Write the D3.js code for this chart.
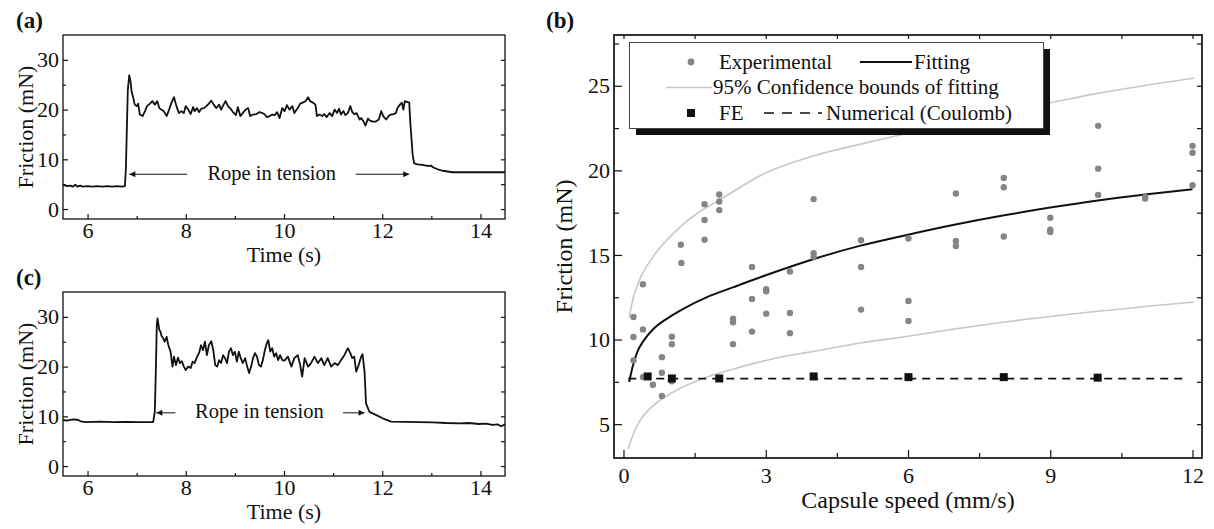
<!DOCTYPE html>
<html>
<head>
<meta charset="utf-8">
<script src="https://cdn.jsdelivr.net/npm/d3@7"></script>
<style>
  body { margin: 0; background: #fff; }
  svg { display: block; }
  text { font-family: "Liberation Serif", "Times New Roman", Times, "DejaVu Serif", serif; fill: #111; }
  .domain { display: none; }
  .tick line { stroke: #111; stroke-width: 1.2; }
</style>
</head>
<body>
<svg id="chart" width="1214" height="529"></svg>
<script>
// ---- data ----
// (a) friction trace: [time s, friction mN]
var traceA = [[5.5,4.9],[5.55,4.7],[5.6,4.6],[5.65,4.7],[5.7,4.5],[5.75,4.9],[5.8,4.5],[5.85,4.7],[5.9,4.5],
  [6.0,4.6],[6.1,4.5],[6.2,4.6],[6.3,4.5],[6.4,4.6],[6.5,4.5],[6.6,4.6],[6.7,4.5],[6.76,4.6],[6.78,8.0],
  [6.8,16.0],[6.82,24.0],[6.848,26.9],[6.875,25.7],[6.896,23.7],[6.93,22.4],[6.96,21.0],[7.0,20.7],[7.03,21.2],
  [7.065,19.0],[7.12,18.7],[7.17,19.7],[7.21,20.7],[7.27,21.2],[7.32,21.7],[7.37,21.0],[7.42,21.7],[7.46,20.3],
  [7.5,20.0],[7.55,19.7],[7.61,18.7],[7.66,20.0],[7.71,21.4],[7.76,22.5],[7.81,20.7],[7.86,19.3],[7.91,19.7],
  [7.96,19.3],[8.0,20.7],[8.05,20.0],[8.1,19.1],[8.15,20.5],[8.18,19.7],[8.23,20.3],[8.27,19.5],[8.32,20.2],
  [8.37,20.3],[8.42,20.7],[8.47,21.2],[8.52,21.8],[8.57,21.0],[8.62,20.3],[8.68,21.0],[8.72,20.0],[8.77,21.0],
  [8.81,21.7],[8.86,20.7],[8.91,20.2],[8.96,19.5],[9.02,18.9],[9.06,20.5],[9.11,18.7],[9.16,19.3],[9.22,20.0],
  [9.27,20.3],[9.31,18.7],[9.37,19.0],[9.44,19.1],[9.5,19.5],[9.56,19.3],[9.61,19.0],[9.65,18.5],[9.71,18.7],
  [9.76,19.0],[9.81,18.9],[9.86,19.5],[9.91,18.3],[9.964,20.3],[10.01,19.7],[10.06,20.9],[10.11,20.0],
  [10.17,20.7],[10.21,19.3],[10.28,20.3],[10.33,21.2],[10.38,21.4],[10.44,21.7],[10.49,22.5],[10.53,21.7],
  [10.59,21.4],[10.64,21.0],[10.67,18.7],[10.72,19.0],[10.78,18.7],[10.82,19.1],[10.87,18.5],[10.93,19.3],
  [10.98,18.7],[11.03,20.0],[11.08,19.3],[11.12,20.2],[11.16,19.0],[11.21,19.7],[11.25,18.9],[11.30,19.3],
  [11.35,20.7],[11.39,19.5],[11.43,19.1],[11.48,19.3],[11.54,18.0],[11.57,18.3],[11.62,17.6],[11.66,16.8],
  [11.71,18.2],[11.75,17.8],[11.81,17.6],[11.87,17.6],[11.93,18.0],[11.98,19.7],[12.02,18.7],[12.08,18.0],
  [12.13,18.7],[12.18,19.0],[12.23,19.1],[12.28,19.3],[12.31,20.3],[12.36,21.0],[12.40,21.4],[12.43,20.0],
  [12.46,21.7],[12.52,21.5],[12.55,21.4],[12.57,17.6],[12.60,13.6],[12.62,10.9],[12.65,9.2],[12.72,9.0],
  [12.82,8.9],[12.92,8.7],[12.99,8.75],[13.04,8.35],[13.13,8.0],[13.23,7.7],[13.33,7.55],[13.43,7.4],[14.5,7.4]];

// (c) friction trace: [time s, friction mN]
var traceC = [[5.5,9.26],[5.575,9.12],[5.71,9.39],[5.81,9.26],[5.88,8.92],[5.98,8.85],[6.25,8.92],[6.52,8.85],
  [6.79,8.89],[7.06,8.85],[7.336,8.85],[7.37,11.0],[7.39,19.0],[7.41,28.4],[7.425,29.7],[7.46,27.4],[7.485,27.0],
  [7.505,26.2],[7.54,25.7],[7.57,25.0],[7.61,26.0],[7.64,24.5],[7.69,23.0],[7.73,20.0],[7.76,22.0],[7.80,20.3],
  [7.84,21.8],[7.88,20.7],[7.92,21.1],[7.96,20.0],[8.0,19.3],[8.05,20.0],[8.1,19.7],[8.14,21.0],[8.18,20.7],
  [8.23,22.0],[8.27,22.7],[8.31,24.3],[8.35,23.3],[8.39,25.0],[8.43,22.3],[8.47,24.3],[8.52,25.1],[8.56,23.3],
  [8.6,20.3],[8.64,20.0],[8.68,21.3],[8.72,20.7],[8.76,22.3],[8.8,21.7],[8.84,20.7],[8.88,23.0],[8.92,23.7],
  [8.96,22.3],[9.0,23.0],[9.04,21.0],[9.08,23.0],[9.12,21.7],[9.16,20.7],[9.21,21.7],[9.25,20.0],[9.29,18.7],
  [9.33,20.0],[9.37,21.7],[9.41,22.7],[9.45,22.0],[9.49,20.3],[9.53,20.0],[9.57,21.3],[9.61,23.3],[9.65,24.7],
  [9.68,25.3],[9.72,23.0],[9.76,23.7],[9.8,22.0],[9.84,22.7],[9.88,21.3],[9.92,22.3],[9.965,21.3],[10.01,21.2],
  [10.08,22.0],[10.15,20.0],[10.21,21.7],[10.28,22.3],[10.33,20.3],[10.37,18.0],[10.42,21.7],[10.49,20.0],
  [10.55,20.7],[10.62,22.0],[10.69,20.7],[10.76,21.7],[10.82,20.3],[10.89,21.7],[10.96,20.0],[11.03,20.7],
  [11.10,20.3],[11.16,21.3],[11.23,22.3],[11.30,23.7],[11.35,22.7],[11.39,21.7],[11.43,22.0],[11.47,19.0],
  [11.52,20.3],[11.57,22.0],[11.60,22.5],[11.64,19.0],[11.67,12.6],[11.74,10.9],[11.87,10.3],[12.01,9.6],
  [12.18,8.93],[13.03,8.8],[13.3,8.66],[13.57,8.6],[13.77,8.66],[13.97,8.46],[14.11,8.52],[14.25,8.26],
  [14.35,8.39],[14.42,8.0],[14.5,8.39]];

// (b) experimental points: [capsule speed mm/s, friction mN]
var experimental = [[0.21,11.33],[0.21,10.15],[0.21,8.77],[0.41,13.27],[0.41,10.6],[0.41,7.78],[0.62,7.33],
  [0.81,8.96],[0.81,8.04],[0.81,6.66],[1.02,10.17],[1.02,9.73],[1.02,7.53],[1.21,15.6],[1.22,14.53],
  [1.71,18.0],[1.71,17.07],[1.71,15.9],[2.02,18.57],[2.02,18.16],[2.02,17.65],[2.31,11.24],[2.31,11.02],
  [2.31,9.73],[2.71,14.29],[2.71,12.4],[2.71,10.47],[3.01,12.97],[3.01,12.85],[3.01,11.53],[3.51,14.02],
  [3.51,11.57],[3.51,10.38],[4.01,18.3],[4.01,15.1],[4.01,14.9],[5.01,15.87],[5.01,14.29],[5.01,11.77],
  [6.01,15.97],[6.01,12.28],[6.01,11.1],[7.01,18.63],[7.01,15.83],[7.01,15.53],[8.02,19.55],[8.02,19.0],
  [8.02,16.09],[9.0,17.2],[9.0,16.49],[9.0,16.36],[10.01,22.63],[10.01,20.1],[10.01,18.55],[11.0,18.43],
  [11.0,18.34],[12.0,21.45],[12.0,21.04],[12.0,19.12]];
var feResults = [[0.51,7.82],[1.02,7.7],[2.02,7.7],[4.01,7.82],[6.01,7.78],[8.02,7.78],[10.0,7.75]];
var fitting = [[0.12,7.49],[0.19,8.37],[0.29,9.26],[0.43,9.95],[0.64,10.65],[0.92,11.24],[1.27,11.83],
  [1.76,12.51],[2.32,13.1],[3.0,13.8],[4.0,14.75],[5.0,15.55],[6.0,16.2],[7.0,16.8],[8.0,17.33],
  [9.0,17.8],[10.0,18.22],[11.0,18.57],[12.0,18.88]];
var upperBound = [[0.12,11.33],[0.21,12.5],[0.35,13.6],[0.6,14.8],[1.05,16.27],[1.55,17.45],[2.02,18.24],
  [3.0,19.85],[4.0,20.85],[5.0,21.55],[6.0,22.2],[7.0,22.85],[8.0,23.45],[9.0,24.0],[10.0,24.55],
  [11.0,25.02],[12.03,25.44]];
var lowerBound = [[0.1,3.54],[0.21,4.43],[0.35,5.22],[0.63,6.1],[1.05,6.9],[1.76,7.78],[2.46,8.37],
  [3.16,8.87],[4.0,9.3],[5.0,9.8],[6.0,10.2],[7.0,10.63],[8.0,11.02],[10.0,11.67],[12.03,12.22]];
var coulomb = [[0.1,7.69],[11.8,7.69]];

var timeTicks = [6, 8, 10, 12, 14], timeMinor = [7, 9, 11, 13];
var forceTicksA = [0, 10, 20, 30], forceMinorA = [5, 15, 25];
var speedTicks = [0, 3, 6, 9, 12], speedMinor = [1.5, 4.5, 7.5, 10.5];
var forceTicksB = [5, 10, 15, 20, 25], forceMinorB = [7.5, 12.5, 17.5, 22.5, 27.5];

var svg = d3.select("#chart");
var defs = svg.append("defs");
defs.append("marker")
  .attr("id", "arrow")
  .attr("viewBox", "0 0 10 10")
  .attr("refX", 10).attr("refY", 5)
  .attr("markerWidth", 9).attr("markerHeight", 6)
  .attr("markerUnits", "userSpaceOnUse")
  .attr("orient", "auto")
  .append("path").attr("d", "M0,0L10,5L0,10z").attr("fill", "#111");

function addAxis(g, axis, y0, x0) {
  return g.append("g").attr("transform", "translate(" + x0 + "," + y0 + ")").call(axis);
}

function timePanel(box, data, note, label) {
  var x = d3.scaleLinear().domain([5.5, 14.5]).range([box.left, box.right]);
  var y = d3.scaleLinear().domain([-2, 35]).range([box.bottom, box.top]);
  var g = svg.append("g");

  g.append("rect")
    .attr("x", box.left).attr("y", box.top)
    .attr("width", box.right - box.left).attr("height", box.bottom - box.top)
    .attr("fill", "none").attr("stroke", "#111").attr("stroke-width", 1.3);

  // inward ticks, labels outside
  addAxis(g, d3.axisBottom(x).tickValues(timeTicks).tickSize(-5).tickPadding(3.5), box.bottom, 0);
  addAxis(g, d3.axisBottom(x).tickValues(timeMinor).tickSize(-3).tickFormat(""), box.bottom, 0);
  addAxis(g, d3.axisLeft(y).tickValues(forceTicksA).tickSize(-5).tickPadding(4), 0, box.left);
  addAxis(g, d3.axisLeft(y).tickValues(forceMinorA).tickSize(-3).tickFormat(""), 0, box.left);
  addAxis(g, d3.axisRight(y).tickValues(forceTicksA.concat(forceMinorA)).tickSize(-4).tickFormat(""), 0, box.right);
  g.selectAll(".tick text").attr("font-size", 22).attr("font-family", null).attr("fill", "#111");

  var line = d3.line().x(function(d) { return x(d[0]); }).y(function(d) { return y(d[1]); });
  g.append("path").datum(data)
    .attr("d", line).attr("fill", "none")
    .attr("stroke", "#111").attr("stroke-width", 1.8).attr("stroke-linejoin", "round");

  // annotation
  g.append("text")
    .attr("x", x(note.textT)).attr("y", y(note.textF))
    .attr("text-anchor", "middle").attr("font-size", 20.5)
    .text("Rope in tension");
  [note.left, note.right].forEach(function(a) {
    g.append("line")
      .attr("x1", x(a[0])).attr("x2", x(a[1]))
      .attr("y1", y(note.arrowF)).attr("y2", y(note.arrowF))
      .attr("stroke", "#111").attr("stroke-width", 1)
      .attr("marker-end", "url(#arrow)");
  });

  g.append("text")
    .attr("x", (box.left + box.right) / 2).attr("y", box.bottom + 43)
    .attr("text-anchor", "middle").attr("font-size", 22)
    .text("Time (s)");
  g.append("text")
    .attr("transform", "translate(33," + ((box.top + box.bottom) / 2) + ") rotate(-90)")
    .attr("text-anchor", "middle").attr("font-size", 22)
    .text("Friction (mN)");
  g.append("text")
    .attr("x", 16).attr("y", box.top - 7)
    .attr("font-size", 23).attr("font-weight", "bold")
    .text(label);
}

timePanel({left: 63, right: 505, top: 35, bottom: 219}, traceA,
  {textT: 9.75, textF: 5.9, arrowF: 7.0, left: [8.03, 6.85], right: [11.46, 12.55]}, "(a)");
timePanel({left: 63, right: 505, top: 292, bottom: 476}, traceC,
  {textT: 9.5, textF: 9.6, arrowF: 10.7, left: [7.79, 7.40], right: [11.2, 11.64]}, "(c)");

// ---- panel (b) ----
(function() {
  var box = {left: 614, right: 1202, top: 35, bottom: 458};
  var x = d3.scaleLinear().domain([-0.2, 12.2]).range([box.left, box.right]);
  var y = d3.scaleLinear().domain([3, 28]).range([box.bottom, box.top]);
  var g = svg.append("g");

  var line = d3.line().x(function(d) { return x(d[0]); }).y(function(d) { return y(d[1]); });
  var smooth = d3.line().curve(d3.curveMonotoneX)
    .x(function(d) { return x(d[0]); }).y(function(d) { return y(d[1]); });

  [upperBound, lowerBound].forEach(function(b) {
    g.append("path").datum(b).attr("d", smooth)
      .attr("fill", "none").attr("stroke", "#c8c8c8").attr("stroke-width", 1.6);
  });
  g.append("path").datum(coulomb).attr("d", line)
    .attr("fill", "none").attr("stroke", "#111").attr("stroke-width", 1.6)
    .attr("stroke-dasharray", "8,6");
  g.append("path").datum(fitting).attr("d", smooth)
    .attr("fill", "none").attr("stroke", "#111").attr("stroke-width", 2);

  g.selectAll(".exp").data(experimental).enter().append("circle")
    .attr("cx", function(d) { return x(d[0]); })
    .attr("cy", function(d) { return y(d[1]); })
    .attr("r", 3.2).attr("fill", "#858585");
  g.selectAll(".fe").data(feResults).enter().append("rect")
    .attr("x", function(d) { return x(d[0]) - 4; })
    .attr("y", function(d) { return y(d[1]) - 4; })
    .attr("width", 8).attr("height", 8).attr("fill", "#111");

  g.append("rect")
    .attr("x", box.left).attr("y", box.top)
    .attr("width", box.right - box.left).attr("height", box.bottom - box.top)
    .attr("fill", "none").attr("stroke", "#111").attr("stroke-width", 1.7);

  addAxis(g, d3.axisBottom(x).tickValues(speedTicks).tickSize(-8).tickPadding(9), box.bottom, 0);
  addAxis(g, d3.axisBottom(x).tickValues(speedMinor).tickSize(-5).tickFormat(""), box.bottom, 0);
  addAxis(g, d3.axisTop(x).tickValues(speedTicks.concat(speedMinor)).tickSize(-4).tickFormat(""), box.top, 0);
  addAxis(g, d3.axisLeft(y).tickValues(forceTicksB).tickSize(-8).tickPadding(4), 0, box.left);
  addAxis(g, d3.axisLeft(y).tickValues(forceMinorB).tickSize(-5).tickFormat(""), 0, box.left);
  addAxis(g, d3.axisRight(y).tickValues(forceTicksB.concat(forceMinorB)).tickSize(-5).tickFormat(""), 0, box.right);
  g.selectAll(".tick text").attr("font-size", 22).attr("font-family", null).attr("fill", "#111");
  g.selectAll(".tick line").attr("stroke-width", 1.5);

  // legend with drop shadow
  var lg = g.append("g");
  lg.append("rect").attr("x", 636).attr("y", 49).attr("width", 414).attr("height", 86).attr("fill", "#111");
  lg.append("rect").attr("x", 629.5).attr("y", 42.5).attr("width", 414).attr("height", 86)
    .attr("fill", "#fff").attr("stroke", "#444").attr("stroke-width", 1);
  lg.append("circle").attr("cx", 691).attr("cy", 62).attr("r", 3.4).attr("fill", "#858585");
  lg.append("text").attr("x", 719).attr("y", 68.5).attr("font-size", 21).text("Experimental");
  lg.append("line").attr("x1", 860).attr("x2", 912).attr("y1", 62).attr("y2", 62)
    .attr("stroke", "#111").attr("stroke-width", 2);
  lg.append("text").attr("x", 914).attr("y", 68.5).attr("font-size", 21).text("Fitting");
  lg.append("line").attr("x1", 666).attr("x2", 712).attr("y1", 87.5).attr("y2", 87.5)
    .attr("stroke", "#c8c8c8").attr("stroke-width", 1.6);
  lg.append("text").attr("x", 713).attr("y", 94).attr("font-size", 21).text("95% Confidence bounds of fitting");
  lg.append("rect").attr("x", 687).attr("y", 109).attr("width", 8).attr("height", 8).attr("fill", "#111");
  lg.append("text").attr("x", 719).attr("y", 119.5).attr("font-size", 21).text("FE");
  lg.append("line").attr("x1", 764).attr("x2", 822).attr("y1", 113).attr("y2", 113)
    .attr("stroke", "#111").attr("stroke-width", 1.6).attr("stroke-dasharray", "10,8");
  lg.append("text").attr("x", 826).attr("y", 119.5).attr("font-size", 21).text("Numerical (Coulomb)");

  g.append("text")
    .attr("x", (box.left + box.right) / 2).attr("y", 508)
    .attr("text-anchor", "middle").attr("font-size", 24)
    .text("Capsule speed (mm/s)");
  g.append("text")
    .attr("transform", "translate(572," + ((box.top + box.bottom) / 2) + ") rotate(-90)")
    .attr("text-anchor", "middle").attr("font-size", 24)
    .text("Friction (mN)");
  g.append("text")
    .attr("x", 546).attr("y", 28)
    .attr("font-size", 23).attr("font-weight", "bold")
    .text("(b)");
})();
</script>
</body>
</html>
